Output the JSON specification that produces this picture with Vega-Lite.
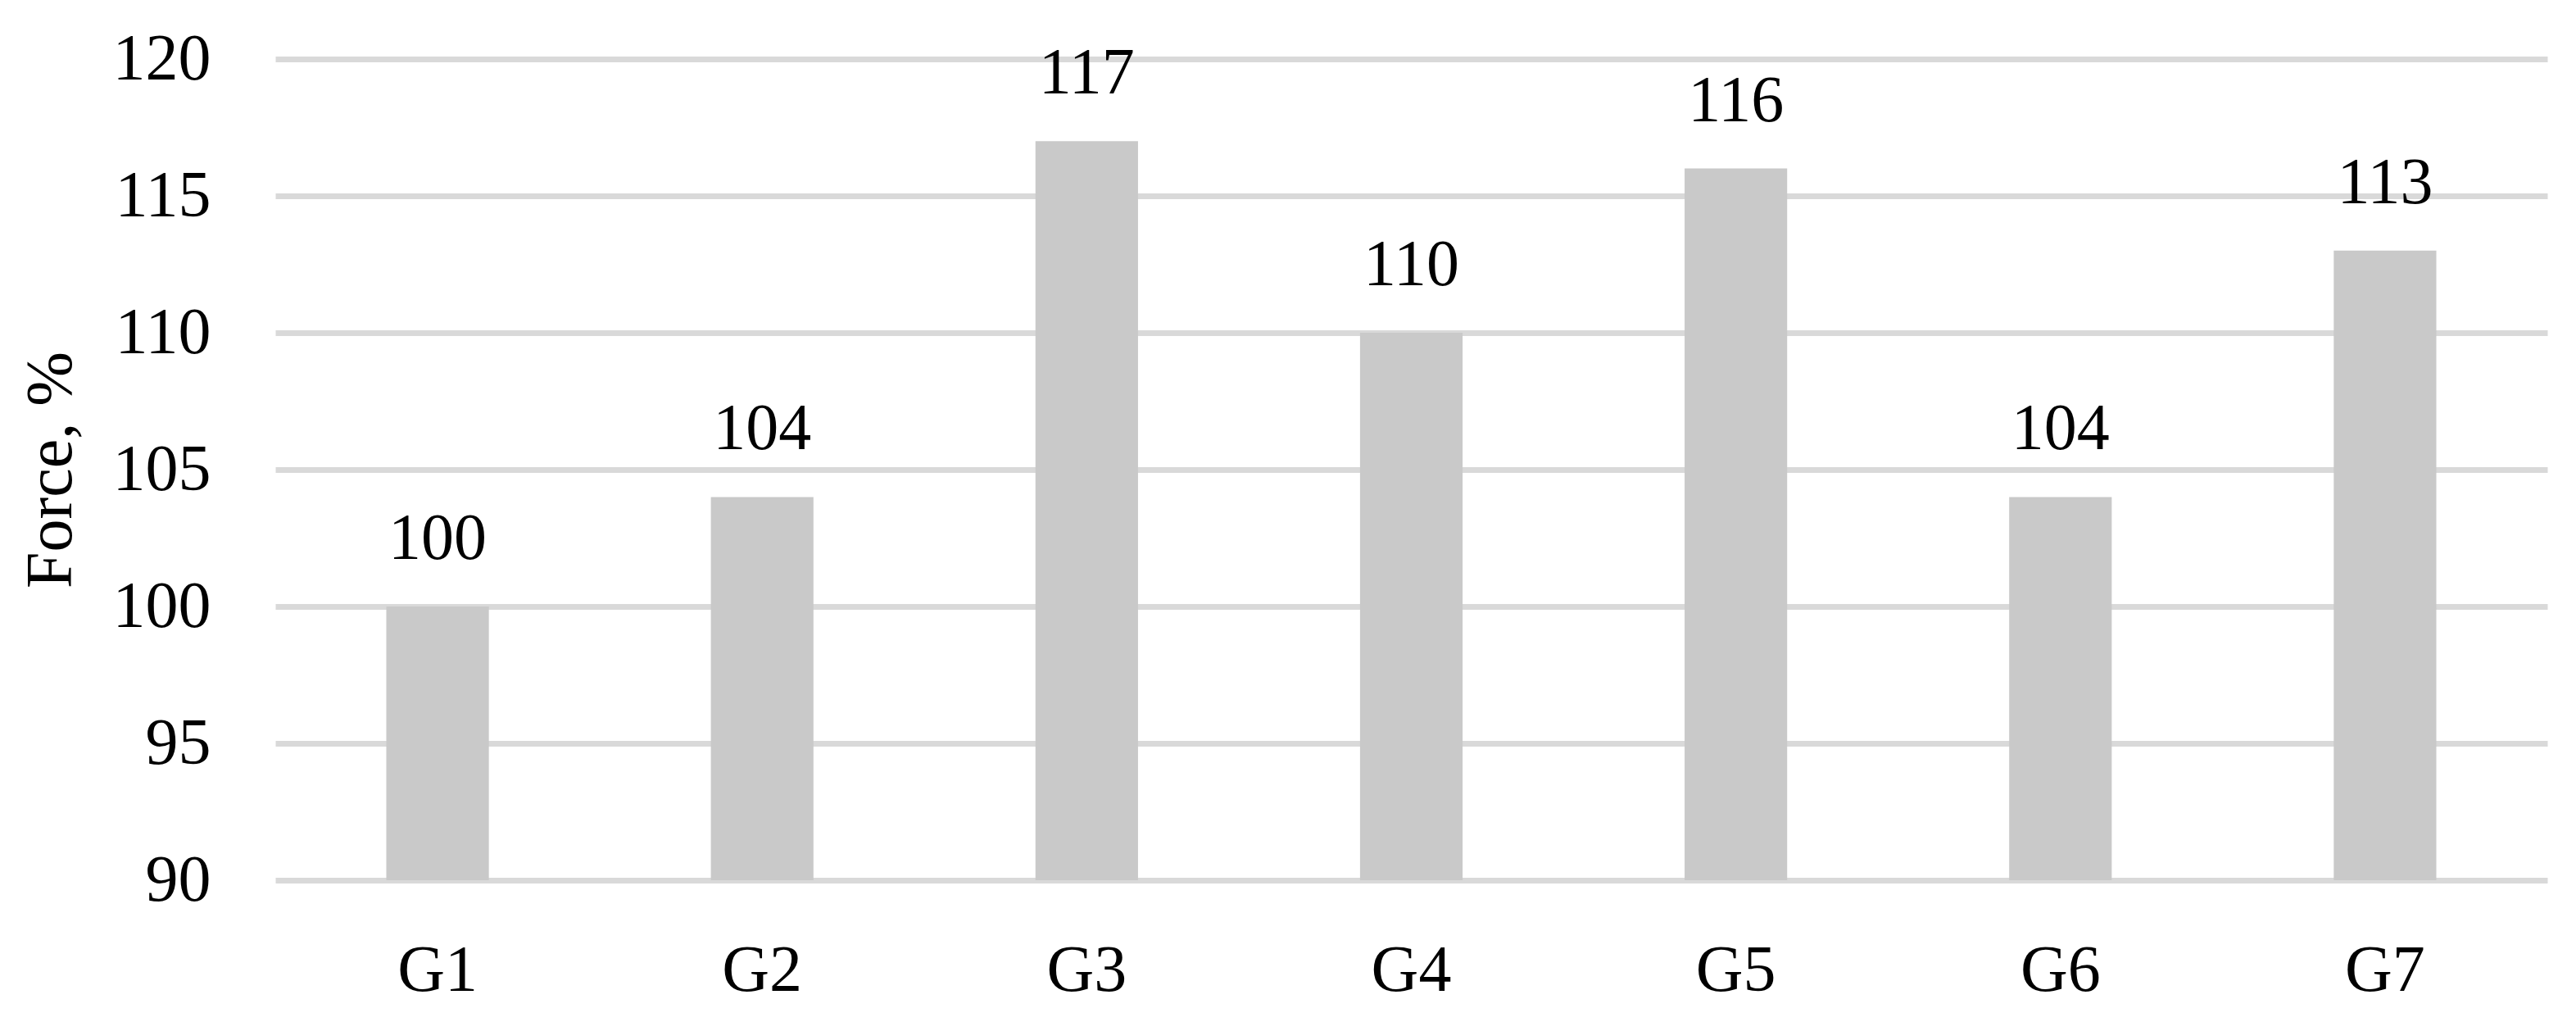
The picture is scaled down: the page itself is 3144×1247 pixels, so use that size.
{
  "$schema": "https://vega.github.io/schema/vega-lite/v6.json",
  "width": 2773,
  "height": 1002,
  "autosize": {"type": "none"},
  "padding": {"left": 336, "top": 72, "right": 35, "bottom": 173},
  "background": "white",
  "config": {
    "view": {"stroke": null},
    "font": "Liberation Serif"
  },
  "data": {
    "values": [
      {"group": "G1", "force": 100},
      {"group": "G2", "force": 104},
      {"group": "G3", "force": 117},
      {"group": "G4", "force": 110},
      {"group": "G5", "force": 116},
      {"group": "G6", "force": 104},
      {"group": "G7", "force": 113}
    ]
  },
  "encoding": {
    "x": {
      "field": "group",
      "type": "nominal",
      "sort": null,
      "scale": {"paddingInner": 0.684, "paddingOuter": 0.342},
      "axis": {
        "title": null,
        "labelAngle": 0,
        "domain": false,
        "ticks": false,
        "tickSize": 0,
        "grid": false,
        "labelFont": "Liberation Serif",
        "labelFontSize": 80,
        "labelColor": "black",
        "labelBaseline": "alphabetic",
        "labelPadding": 134
      }
    },
    "y": {
      "field": "force",
      "type": "quantitative",
      "scale": {"domain": [90, 120], "zero": false, "nice": false},
      "axis": {
        "title": "Force, %",
        "values": [90, 95, 100, 105, 110, 115, 120],
        "domain": false,
        "ticks": false,
        "tickSize": 0,
        "grid": true,
        "gridColor": "#d9d9d9",
        "gridWidth": 7,
        "labelFont": "Liberation Serif",
        "labelFontSize": 80,
        "labelColor": "black",
        "labelPadding": 79,
        "titleFont": "Liberation Serif",
        "titleFontSize": 80,
        "titleFontWeight": "normal",
        "titleColor": "black",
        "titleAngle": -90,
        "titleBaseline": "alphabetic",
        "titleAlign": "center",
        "titleX": -250,
        "titleY": 501
      }
    }
  },
  "layer": [
    {
      "mark": {"type": "bar", "color": "#c9c9c9"},
      "encoding": {
        "y2": {"datum": 90}
      }
    },
    {
      "mark": {
        "type": "text",
        "font": "Liberation Serif",
        "fontSize": 80,
        "color": "black",
        "baseline": "alphabetic",
        "align": "center",
        "dy": -58
      },
      "encoding": {
        "text": {"field": "force", "type": "quantitative"}
      }
    }
  ]
}
